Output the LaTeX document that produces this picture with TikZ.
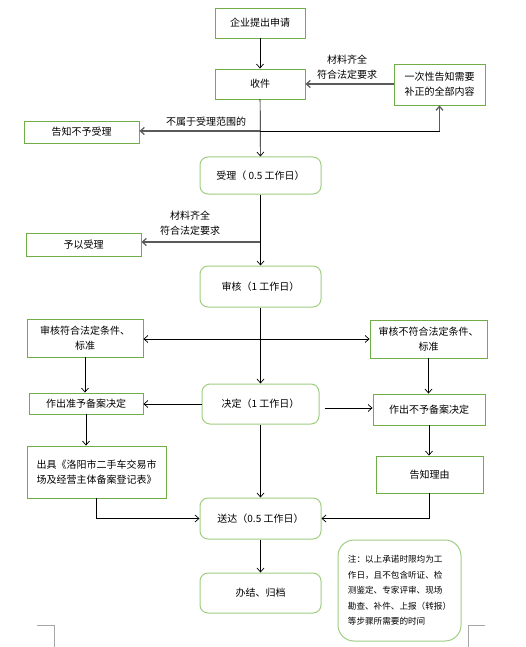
\documentclass[tikz,border=0pt]{standalone}
\usepackage{fontspec}
\setmainfont{Noto Sans CJK SC}
\usetikzlibrary{arrows.meta,calc}
\definecolor{gsq}{RGB}{112,173,71}
\definecolor{grd}{RGB}{160,205,130}
\definecolor{garr}{RGB}{90,90,90}
\begin{document}
\begin{tikzpicture}[x=1pt,y=-1pt,
  font=\fontsize{10}{15}\selectfont,
  sq/.style={draw=gsq,line width=0.9pt,inner sep=0pt,align=center},
  rd/.style={draw=grd,line width=1pt,rounded corners=8pt,inner sep=0pt,align=center},
  arr/.style={draw=black,line width=0.7pt,-{Straight Barb[length=4pt,width=7pt]}},
  garrow/.style={draw=garr,line width=1.2pt,-{Straight Barb[length=4pt,width=7pt]}},
  gline/.style={draw=garr,line width=1.2pt},
  bline/.style={draw=black,line width=0.7pt},
  lbl/.style={align=center,inner sep=0pt}]
\useasboundingbox (0,0) rectangle (525,647);

% boxes (square)
\node[sq,minimum width=90pt,minimum height=30pt] (apply) at (260,23) {企业提出申请};
\node[sq,minimum width=90pt,minimum height=30pt] (receive) at (260,84) {收件};
\node[sq,minimum width=91pt,minimum height=41pt,align=left] (yici) at (439.5,84.5) {一次性告知需要\\补正的全部内容};
\node[sq,minimum width=115pt,minimum height=22pt] (buyu) at (81.5,132) {告知不予受理};
\node[sq,minimum width=115pt,minimum height=23pt] (yuyi) at (83.5,244.5) {予以受理};
\node[sq,minimum width=116pt,minimum height=38pt] (s1) at (85,338) {审核符合法定条件、\\标准};
\node[sq,minimum width=117pt,minimum height=38pt] (s2) at (428.5,339) {审核不符合法定条件、\\标准};
\node[sq,minimum width=114pt,minimum height=21pt] (z1) at (86,403.5) {作出准予备案决定};
\node[sq,minimum width=112pt,minimum height=31pt] (z2) at (429,409.5) {作出不予备案决定};
\node[sq,minimum width=139pt,minimum height=52pt,align=left] (chuju) at (96.5,472) {出具《洛阳市二手车交易市\\场及经营主体备案登记表》};
\node[sq,minimum width=107pt,minimum height=37pt] (liyou) at (429.5,474.5) {告知理由};

% rounded boxes
\node[rd,minimum width=121pt,minimum height=37pt] (accept) at (260.5,175.5) {受理（ 0.5 工作日）};
\node[rd,minimum width=121pt,minimum height=41pt] (review) at (260.5,286.5) {审核（1 工作日）};
\node[rd,minimum width=117pt,minimum height=40pt] (decide) at (260.5,404) {决定（1 工作日）};
\node[rd,minimum width=121pt,minimum height=41pt] (deliver) at (260.5,518.5) {送达（0.5 工作日）};
\node[rd,minimum width=121pt,minimum height=40pt] (finish) at (260.5,593) {办结、归档};
\node[rd,rounded corners=16pt,minimum width=123pt,minimum height=101pt,align=left,
      font=\fontsize{8.6}{15.5}\selectfont] (note) at (399.5,590.5)
  {注：以上承诺时限均为工\\作日，且不包含听证、检\\测鉴定、专家评审、现场\\勘查、补件、上报（转报）\\等步骤所需要的时间};

% labels
\node[lbl] (l1) at (347,67.5) {材料齐全\\符合法定要求};
\node[lbl] (l2) at (206,122) {不属于受理范围的};
\node[lbl] (l3) at (190,223) {材料齐全\\符合法定要求};

% connectors
\coordinate (b1) at (260,131);
\coordinate (b2) at (260,242);
\draw[arr] (apply) -- (receive);
\draw[garrow] (yici.west |- receive) -- (receive.east);
\draw[arr] (receive) -- (accept);
\draw[garrow] (b1) -- (buyu.east |- b1);
\draw[bline] (b1) -- (yici.south |- b1);
\draw[garrow] (yici.south |- b1) -- (yici.south);
\draw[arr] (accept) -- (review);
\draw[garrow] (b2) -- (yuyi.east |- b2);
\draw[arr] (review) -- (decide);
\draw[arr,{Straight Barb[length=4pt,width=7pt]}-{Straight Barb[length=4pt,width=7pt]}] (s1.east |- 0,339) -- (s2.west |- 0,339);
\draw[arr] (s1.south) -- (s1.south |- z1.north);
\draw[arr] (s2.south) -- (s2.south |- z2.north);
\draw[arr] (decide.west) -- (z1.east |- decide.west);
\draw[arr] ([xshift=5pt]decide.east |- 0,408) -- (z2.west |- 0,408);
\draw[arr] (z1.south) -- (z1.south |- chuju.north);
\draw[arr] (z2.south) -- (z2.south |- liyou.north);
\draw[arr] (decide) -- (deliver);
\draw[arr] (chuju.south) |- (deliver.west);
\draw[arr] (liyou.south) |- (deliver.east);
\draw[arr] (deliver) -- (finish);

% crop marks
\draw[gray!70,line width=0.7pt] (37,625) -- (54,625) -- (54,647);
\draw[gray!70,line width=0.7pt] (485,625) -- (468,625) -- (468,647);
\end{tikzpicture}
\end{document}
